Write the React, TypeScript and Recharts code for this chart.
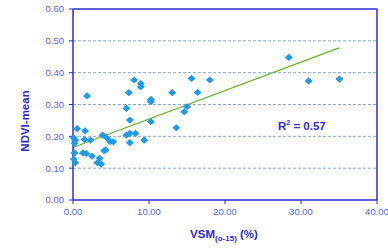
import React from "react";
import { ScatterChart, Scatter, XAxis, YAxis, ReferenceLine } from "recharts";

const vsm: number[] = [
  0.1, 0.3, 0.2, 0.55, 1.5, 2.3, 1.6, 1.85, 3.9, 4.5, 4.9, 5.3, 4.1, 4.3, 0.2, 1.3, 1.75, 2.5, 0.1, 0.3, 3.5, 3.2, 3.7,
  7.04, 7.48, 8.23, 7.48, 9.37, 7.48, 10.25, 7.04, 7.35, 8.05, 8.93, 8.93, 10.25, 10.25, 13.06, 13.6, 14.64, 15.0, 15.6,
  16.4, 18.0, 28.4, 31.0, 35.05,
];
const ndvi: number[] = [
  0.195, 0.188, 0.178, 0.224, 0.19, 0.188, 0.217, 0.327, 0.204, 0.194, 0.183, 0.183, 0.155, 0.157, 0.148, 0.148, 0.146,
  0.138, 0.128, 0.117, 0.131, 0.117, 0.113,
  0.204, 0.209, 0.209, 0.18, 0.188, 0.251, 0.246, 0.288, 0.337, 0.377, 0.366, 0.356, 0.316, 0.309, 0.337, 0.227, 0.277,
  0.293, 0.382, 0.338, 0.377, 0.448, 0.374, 0.38,
];
const trendX: number[] = [0, 35];
const trendY: number[] = [0.165, 0.478];
const xTicks: number[] = [0, 10, 20, 30, 40];
const yTicks: number[] = [0, 0.1, 0.2, 0.3, 0.4, 0.5, 0.6];
const gridValues: number[] = [0.1, 0.2, 0.3, 0.4, 0.5];
const r2Label = "0.57";

const points = vsm.map((x, i) => ({ x, y: ndvi[i] }));

const BLUE = "#2b2bd8";
const TICK = "#5464e6";
const FONT = "'Liberation Sans', Arial, sans-serif";

const Diamond = (props: any) => {
  const { cx, cy } = props;
  if (cx == null || cy == null) return null;
  const w = 4;
  const h = 3.6;
  return (
    <polygon
      points={`${cx},${cy - h} ${cx + w},${cy} ${cx},${cy + h} ${cx - w},${cy}`}
      fill="#1e9ae8"
    />
  );
};

export default function App() {
  return (
    <div style={{ position: "absolute", left: 0, top: 0, width: 388, height: 251, background: "#fff" }}>
      <ScatterChart width={388} height={251} margin={{ top: 9, right: 11, left: 0, bottom: 21 }}>
        <XAxis
          type="number"
          dataKey="x"
          domain={[0, 40]}
          ticks={xTicks}
          tickFormatter={(v: number) => v.toFixed(2)}
          axisLine={{ stroke: BLUE, strokeWidth: 1.5 }}
          tickLine={{ stroke: BLUE }}
          tickSize={4}
          tickMargin={4}
          height={30}
          tick={{ fill: TICK, fontSize: 9.5, fontFamily: FONT }}
          interval={0}
        />
        <YAxis
          type="number"
          dataKey="y"
          domain={[0, 0.6]}
          ticks={yTicks}
          tickFormatter={(v: number) => v.toFixed(2)}
          axisLine={{ stroke: BLUE, strokeWidth: 1.5 }}
          tickLine={{ stroke: BLUE }}
          tickSize={4}
          tickMargin={5}
          width={73}
          tick={{ fill: TICK, fontSize: 9.5, fontFamily: FONT }}
          interval={0}
        />
        {gridValues.map((v) => (
          <ReferenceLine key={v} y={v} stroke="#86a4ea" strokeDasharray="3 2" strokeWidth={1} />
        ))}
        <ReferenceLine y={0.6} stroke={BLUE} strokeWidth={1.5} />
        <ReferenceLine x={40} stroke={BLUE} strokeWidth={1.5} />
        <ReferenceLine
          segment={[
            { x: trendX[0], y: trendY[0] },
            { x: trendX[1], y: trendY[1] },
          ]}
          stroke="#66b22a"
          strokeWidth={1.2}
        />
        <Scatter data={points} shape={Diamond} isAnimationActive={false} />
        <text x={224} y={238} textAnchor="middle" fill={BLUE} fontFamily={FONT} fontWeight="bold" fontSize={11.5}>
          VSM
          <tspan fontSize={8} dy={3}>(o-15)</tspan>
          <tspan fontSize={11.5} dy={-3}> (%)</tspan>
        </text>
        <text
          x={0}
          y={0}
          transform="translate(29,121) rotate(-90)"
          textAnchor="middle"
          fill={BLUE}
          fontFamily={FONT}
          fontWeight="bold"
          fontSize={11.5}
        >
          NDVI-mean
        </text>
        <text x={278} y={130} fill={BLUE} fontFamily={FONT} fontWeight="bold" fontSize={11.5}>
          R
          <tspan fontSize={7} dy={-5}>2</tspan>
          <tspan fontSize={11.5} dy={5}>{` = ${r2Label}`}</tspan>
        </text>
      </ScatterChart>
    </div>
  );
}
